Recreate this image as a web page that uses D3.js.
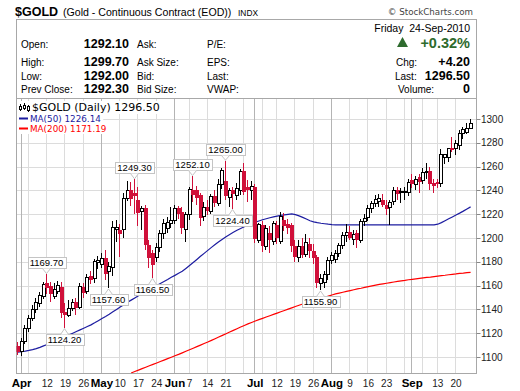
<!DOCTYPE html>
<html>
<head>
<meta charset="utf-8">
<script src="https://cdnjs.cloudflare.com/ajax/libs/d3/7.8.5/d3.min.js"></script>
<style>
  body { margin: 0; background: #fff; }
  svg { display: block; }
  text { white-space: pre; }
</style>
</head>
<body>
<div id="chart"></div>
<script>
// trading days shown on the chart
const dates = [
  "2010-03-31",
  "2010-04-01","2010-04-02","2010-04-05","2010-04-06","2010-04-07","2010-04-08","2010-04-09","2010-04-12","2010-04-13","2010-04-14","2010-04-15","2010-04-16","2010-04-19","2010-04-20","2010-04-21","2010-04-22","2010-04-23","2010-04-26","2010-04-27","2010-04-28","2010-04-29","2010-04-30",
  "2010-05-03","2010-05-04","2010-05-05","2010-05-06","2010-05-07","2010-05-10","2010-05-11","2010-05-12","2010-05-13","2010-05-14","2010-05-17","2010-05-18","2010-05-19","2010-05-20","2010-05-21","2010-05-24","2010-05-25","2010-05-26","2010-05-27","2010-05-28",
  "2010-06-01","2010-06-02","2010-06-03","2010-06-04","2010-06-07","2010-06-08","2010-06-09","2010-06-10","2010-06-11","2010-06-14","2010-06-15","2010-06-16","2010-06-17","2010-06-18","2010-06-21","2010-06-22","2010-06-23","2010-06-24","2010-06-25","2010-06-28","2010-06-29","2010-06-30",
  "2010-07-01","2010-07-02","2010-07-06","2010-07-07","2010-07-08","2010-07-09","2010-07-12","2010-07-13","2010-07-14","2010-07-15","2010-07-16","2010-07-19","2010-07-20","2010-07-21","2010-07-22","2010-07-23","2010-07-26","2010-07-27","2010-07-28","2010-07-29","2010-07-30",
  "2010-08-02","2010-08-03","2010-08-04","2010-08-05","2010-08-06","2010-08-09","2010-08-10","2010-08-11","2010-08-12","2010-08-13","2010-08-16","2010-08-17","2010-08-18","2010-08-19","2010-08-20","2010-08-23","2010-08-24","2010-08-25","2010-08-26","2010-08-27","2010-08-30","2010-08-31",
  "2010-09-01","2010-09-02","2010-09-03","2010-09-07","2010-09-08","2010-09-09","2010-09-10","2010-09-13","2010-09-14","2010-09-15","2010-09-16","2010-09-17","2010-09-20","2010-09-21","2010-09-22","2010-09-23","2010-09-24"
];

// daily prices
const open = [
  1109,1105,1113,1124,1132,1140,1145,1151,1162,1160,
  1151,1155,1159,1138,1135,1141,1146,1142,1159,1155,
  1168,1166,1179,1178,1183,1172,1175,1207,1207,1207,
  1233,1240,1238,1232,1222,1225,1194,1187,1184,1192,
  1204,1208,1212,1215,1225,1222,1207,1220,1240,1240,
  1236,1218,1226,1222,1235,1229,1245,1248,1234,1240,
  1236,1240,1256,1243,1240,1243,1198,1211,1193,1204,
  1197,1211,1197,1215,1212,1211,1193,1184,1193,1186,
  1195,1189,1184,1162,1163,1169,1181,1182,1187,1194,
  1202,1205,1199,1204,1198,1214,1217,1225,1229,1231,
  1232,1228,1226,1231,1240,1238,1238,1238,1249,1245,
  1251,1248,1255,1256,1246,1247,1246,1268,1268,1276,
  1275,1278,1288,1289,1292.1
];
const high = [
  1113,1116,1127,1135,1144,1150,1155,1163,1169.7,1163,
  1162,1164,1163,1145,1148,1149,1150,1162,1162,1170,
  1172,1182,1185,1187,1190,1180,1214,1215,1212,1238,
  1248,1247,1249.3,1243,1227,1228,1198,1190,1196,1207,
  1216,1218,1226,1228,1227,1226,1222,1243,1252.1,1244,
  1238,1230,1232,1237,1240,1250,1259,1265,1242,1243,
  1246,1258,1263,1249,1248,1245,1213,1214,1211,1210,
  1214,1214,1222,1221,1216,1213,1198,1198,1200,1203,
  1200,1195,1186,1170,1172,1184,1188,1190,1196,1205,
  1212,1210,1207,1207,1216,1220,1228,1231,1236,1237,
  1237,1232,1232,1243,1243,1242,1243,1250,1254,1252,
  1254,1259,1263,1260,1250,1250,1275,1271,1276,1285,
  1282,1291,1293,1297,1299.7
];
const low = [
  1102,1101,1111,1121,1130,1137,1142,1149,1153,1146,
  1149,1153,1133,1124.2,1134,1139,1135,1140,1150,1153,
  1161,1162,1174,1175,1165,1157.6,1168,1197,1184,1200,
  1231,1227,1220,1210,1207,1190,1175,1166.5,1180,1188,
  1199,1204,1208,1212,1216,1203,1197,1215,1230,1228,
  1210,1214,1219,1220,1226,1227,1241,1232,1226,1224.4,
  1232,1236,1236,1230,1232,1196,1196,1188,1190,1187,
  1194,1195,1195,1206,1203,1188,1180,1180,1183,1184,
  1183,1178,1158,1155.9,1158,1165,1178,1179,1184,1191,
  1197,1198,1194,1192,1196,1210,1214,1221,1226,1226,
  1226,1219,1211,1228,1232,1229,1232,1235,1242,1240,
  1238,1245,1250,1240,1238,1242,1243,1262,1264,1272,
  1270,1274,1283,1287,1292.0
];
const close = [
  1104.5,1113,1124,1132,1140,1146,1152,1161,1158,1153,
  1157,1160,1137,1135,1141,1146,1141,1159,1154,1167,
  1165,1180,1181,1183,1170,1176,1209,1209,1203,1233,
  1240,1233,1235,1221,1225,1194,1183,1177,1192,1204,
  1212,1213,1215,1225,1220,1208,1220,1241,1236,1234,
  1217,1226,1223,1235,1229,1245,1257,1235,1240,1237,
  1242,1256,1239,1240,1243,1199,1211,1193,1208,1198,
  1212,1200,1218,1210,1208,1193,1184,1193,1186,1196,
  1189,1183,1162,1166,1169,1181,1185,1187,1194,1202,
  1205,1200,1203,1198,1214,1216,1225,1229,1232,1233,
  1228,1224,1230,1240,1237,1239,1239,1247,1245,1249,
  1247,1255,1256,1245,1244,1245,1270,1270,1275,1274,
  1279,1288,1291,1292.3,1296.5
];

// moving averages
const ma50 = [
  1104.0,1104.4,1104.9,1105.5,1106.2,1107.0,1108.1,1109.3,1110.5,1111.7,
  1113.0,1114.4,1115.8,1117.2,1118.6,1120.0,1121.4,1122.8,1124.2,1125.6,
  1127.0,1128.7,1130.5,1132.3,1134.1,1136.0,1138.0,1140.0,1142.0,1144.0,
  1146.0,1147.8,1149.6,1151.4,1153.2,1155.0,1156.7,1158.4,1160.1,1161.8,
  1163.5,1165.2,1167.0,1168.6,1170.3,1172.0,1174.4,1176.9,1179.4,1182.0,
  1184.6,1187.1,1189.6,1192.1,1194.5,1196.8,1199.0,1201.0,1203.0,1204.8,
  1206.5,1208.0,1209.5,1210.9,1212.1,1213.2,1214.3,1215.3,1216.2,1217.0,
  1217.7,1218.4,1219.0,1219.5,1219.9,1220.2,1219.6,1218.6,1217.3,1215.9,
  1214.5,1213.6,1212.9,1212.4,1212.0,1211.6,1211.3,1211.1,1211.0,1211.0,
  1211.0,1211.0,1211.0,1211.0,1211.0,1211.0,1211.0,1211.0,1211.0,1211.0,
  1211.0,1211.0,1211.0,1211.0,1211.0,1211.0,1211.0,1211.0,1211.0,1211.0,
  1211.0,1211.0,1211.0,1211.0,1211.0,1211.6,1212.9,1214.5,1216.1,1217.7,
  1219.3,1220.9,1222.6,1224.4,1226.14
];
const ma200 = [
  null,null,null,null,null,null,null,null,null,null,
  null,null,null,null,null,null,null,null,null,null,
  null,null,null,null,null,null,null,null,null,null,
  null,1086.6,1087.8,1089.0,1090.2,1091.4,1092.6,1093.8,1095.0,1096.2,
  1097.4,1098.6,1099.8,1101.0,1102.2,1103.5,1104.8,1106.1,1107.4,1108.7,
  1110.0,1111.3,1112.6,1114.0,1115.4,1116.8,1118.2,1119.6,1121.0,1122.4,
  1123.8,1125.2,1126.5,1127.8,1129.0,1130.2,1131.4,1132.5,1133.6,1134.7,
  1135.8,1136.9,1138.0,1139.1,1140.2,1141.3,1142.4,1143.5,1144.5,1145.5,
  1146.5,1147.5,1148.4,1149.3,1150.2,1151.1,1152.1,1153.0,1153.7,1154.4,
  1155.1,1155.8,1156.5,1157.2,1157.8,1158.5,1159.2,1159.8,1160.4,1161.0,
  1161.5,1162.0,1162.5,1163.0,1163.5,1164.0,1164.4,1164.9,1165.3,1165.7,
  1166.1,1166.5,1166.9,1167.2,1167.6,1168.0,1168.4,1168.7,1169.1,1169.5,
  1169.8,1170.2,1170.5,1170.9,1171.19
];

// axis ticks
const priceTicks = [1100, 1120, 1140, 1160, 1180, 1200, 1220, 1240, 1260, 1280, 1300];
const monthTicks = ["2010-04-01", "2010-05-03", "2010-06-01", "2010-07-01", "2010-08-02", "2010-09-01"];
const monthNames = ["Apr", "May", "Jun", "Jul", "Aug", "Sep"];
const weekTicks = ["2010-04-12","2010-04-19","2010-04-26","2010-05-10","2010-05-17","2010-05-24","2010-06-07","2010-06-14","2010-06-21","2010-07-12","2010-07-19","2010-07-26","2010-08-09","2010-08-16","2010-08-23","2010-09-13","2010-09-20"];

// labelled highs and lows
const noteDates = ["2010-04-12","2010-04-19","2010-05-05","2010-05-14","2010-05-21","2010-06-08","2010-06-21","2010-06-23","2010-07-28"];
const noteValues = [1169.70, 1124.20, 1157.60, 1249.30, 1166.50, 1252.10, 1265.00, 1224.40, 1155.90];
const noteSides = ["high","low","low","high","low","high","high","low","low"];

// quote box
const quoteLabels = ["Open:", "High:", "Low:", "Prev Close:"];
const quoteValues = ["1292.10", "1299.70", "1292.00", "1292.30"];
const quoteLabels2 = ["Ask:", "Ask Size:", "Bid:", "Bid Size:"];
const quoteLabels3 = ["P/E:", "EPS:", "Last:", "VWAP:"];
const quoteRightLabels = ["Chg:", "Last:", "Volume:"];
const quoteRightValues = ["+4.20", "1296.50", "0"];

const settings = {
  width: 520,
  height: 391,
  frame: { left: 16.5, right: 476.5, top: 19.5, bottom: 373.5 },
  plotTop: 98.5,
  xRange: [18, 470.6],
  yRange: [357, 119],
  upStroke: "#000",
  downColor: "#d0103a",
  ma50Color: "#1c1ca0",
  ma200Color: "#ff0000",
  gridColor: "#dcdcdc",
  monthGridColor: "#b4b4b4",
  frameColor: "#a8a8a8",
  green: "#2e6b2e",
};

const SANS = "'Liberation Sans', Arial, sans-serif";
const DEJAVU = "'DejaVu Sans', Verdana, sans-serif";

function drawChart() {
  const f = settings.frame;
  const svg = d3.select("#chart").append("svg")
    .attr("width", settings.width)
    .attr("height", settings.height);

  const x = d3.scalePoint().domain(dates).range(settings.xRange);
  const y = d3.scaleLinear().domain([1100, 1300]).range(settings.yRange);

  // ---- title line
  svg.append("text").attr("x", 15).attr("y", 16)
    .style("font-family", SANS).style("font-weight", "bold").style("font-size", "12.5px")
    .text("$GOLD");
  svg.append("text").attr("x", 63).attr("y", 16)
    .style("font-family", SANS).style("font-size", "10.6px")
    .text("(Gold - Continuous Contract (EOD))");
  svg.append("text").attr("x", 238).attr("y", 16)
    .style("font-family", SANS).style("font-size", "8.4px")
    .text("INDX");
  svg.append("text").attr("x", 473).attr("y", 15).attr("text-anchor", "end")
    .style("font-family", DEJAVU).style("font-size", "8.7px").style("fill", "#444")
    .text("\u00a9 StockCharts.com");

  // ---- plot grid
  const grid = svg.append("g");
  grid.selectAll("line.h").data(priceTicks).enter().append("line")
    .attr("x1", f.left).attr("x2", f.right)
    .attr("y1", (d) => Math.round(y(d)) + 0.5).attr("y2", (d) => Math.round(y(d)) + 0.5)
    .style("stroke", settings.gridColor);

  // first trading day of each week
  const weekStarts = dates.filter((d, i) => {
    if (i === 0) return false;
    const prev = new Date(dates[i - 1] + "T00:00:00Z");
    const cur = new Date(d + "T00:00:00Z");
    return cur.getUTCDay() <= prev.getUTCDay() || (cur - prev) / 864e5 >= 7;
  });
  grid.selectAll("line.w").data(weekStarts).enter().append("line")
    .attr("x1", (d) => Math.round(x(d)) - 0.5).attr("x2", (d) => Math.round(x(d)) - 0.5)
    .attr("y1", settings.plotTop).attr("y2", f.bottom)
    .style("stroke", settings.gridColor);
  grid.selectAll("line.m").data(monthTicks).enter().append("line")
    .attr("x1", (d) => Math.round(x(d)) - 0.5).attr("x2", (d) => Math.round(x(d)) - 0.5)
    .attr("y1", settings.plotTop).attr("y2", f.bottom)
    .style("stroke", settings.monthGridColor);

  // ---- frame
  svg.append("rect")
    .attr("x", f.left).attr("y", f.top)
    .attr("width", f.right - f.left).attr("height", f.bottom - f.top)
    .style("fill", "none").style("stroke", settings.frameColor);
  svg.append("line")
    .attr("x1", f.left).attr("x2", f.right)
    .attr("y1", settings.plotTop).attr("y2", settings.plotTop)
    .style("stroke", settings.frameColor);

  // ---- quote box
  const q = svg.append("g").style("font-family", SANS);
  const rowY = [48, 65.5, 79.5, 93];
  q.selectAll("text.l1").data(quoteLabels).enter().append("text")
    .attr("x", 21).attr("y", (d, i) => rowY[i]).style("font-size", "10px").text((d) => d);
  q.selectAll("text.v1").data(quoteValues).enter().append("text")
    .attr("x", 129).attr("y", (d, i) => rowY[i]).attr("text-anchor", "end")
    .style("font-size", "12.5px").style("font-weight", "bold").text((d) => d);
  q.selectAll("text.l2").data(quoteLabels2).enter().append("text")
    .attr("x", 137).attr("y", (d, i) => rowY[i]).style("font-size", "10px").text((d) => d);
  q.selectAll("text.l3").data(quoteLabels3).enter().append("text")
    .attr("x", 207).attr("y", (d, i) => rowY[i]).style("font-size", "10px").text((d) => d);

  q.append("text").attr("x", 470).attr("y", 31.5).attr("text-anchor", "end")
    .style("font-size", "10.5px").text("Friday  24-Sep-2010");
  q.append("path").attr("d", "M397,47L402.5,37L408,47Z").style("fill", settings.green);
  q.append("text").attr("x", 470).attr("y", 47.5).attr("text-anchor", "end")
    .style("font-size", "14.5px").style("font-weight", "bold").style("fill", settings.green)
    .text("+0.32%");
  const rLabelX = [396, 395, 398];
  q.selectAll("text.rl").data(quoteRightLabels).enter().append("text")
    .attr("x", (d, i) => rLabelX[i]).attr("y", (d, i) => rowY[i + 1])
    .style("font-size", "10px").text((d) => d);
  q.selectAll("text.rv").data(quoteRightValues).enter().append("text")
    .attr("x", 470).attr("y", (d, i) => rowY[i + 1]).attr("text-anchor", "end")
    .style("font-size", "12.5px").style("font-weight", "bold").text((d) => d);

  // ---- right price axis
  const axis = svg.append("g").style("font-family", SANS);
  axis.selectAll("line").data(priceTicks).enter().append("line")
    .attr("x1", f.right).attr("x2", f.right + 4)
    .attr("y1", (d) => Math.round(y(d)) + 0.5).attr("y2", (d) => Math.round(y(d)) + 0.5)
    .style("stroke", "#888");
  axis.selectAll("text").data(priceTicks).enter().append("text")
    .attr("x", 481).attr("y", (d) => y(d) + 3.6)
    .style("font-size", "10px").style("fill", "#222").text((d) => d);

  // ---- bottom date labels
  const xl = svg.append("g").style("font-family", SANS);
  xl.selectAll("text.mo").data(monthTicks).enter().append("text")
    .attr("x", (d) => x(d)).attr("y", 386.5).attr("text-anchor", "middle")
    .style("font-size", "11.5px").style("font-weight", "bold")
    .text((d, i) => monthNames[i]);
  xl.selectAll("text.wk").data(weekTicks).enter().append("text")
    .attr("x", (d) => x(d)).attr("y", 386.5).attr("text-anchor", "middle")
    .style("font-size", "10px").style("fill", "#222")
    .text((d) => +d.slice(8));

  // ---- plot contents, clipped
  svg.append("clipPath").attr("id", "plotclip").append("rect")
    .attr("x", f.left).attr("y", settings.plotTop)
    .attr("width", f.right - f.left).attr("height", f.bottom - settings.plotTop);
  const plot = svg.append("g").attr("clip-path", "url(#plotclip)");

  const bars = dates.map((d, i) => ({ date: d, o: open[i], h: high[i], l: low[i], c: close[i] }));

  const maLine = d3.line().defined((d) => d != null)
    .x((d, i) => x(dates[i])).y((d) => y(d));
  plot.append("path").datum(ma200).attr("d", maLine)
    .style("fill", "none").style("stroke", settings.ma200Color).style("stroke-width", 1.2);
  plot.append("path").datum(ma50).attr("d", maLine)
    .style("fill", "none").style("stroke", settings.ma50Color).style("stroke-width", 1.2);

  // candles: 4px wide bodies, wick on the inner-left pixel
  const candles = plot.selectAll("g.c").data(bars).enter().append("g")
    .attr("shape-rendering", "crispEdges");
  candles.append("line")
    .attr("x1", (d) => Math.round(x(d.date)) - 0.5).attr("x2", (d) => Math.round(x(d.date)) - 0.5)
    .attr("y1", (d) => y(d.h)).attr("y2", (d) => y(d.l))
    .style("stroke", (d) => (d.c >= d.o ? settings.upStroke : settings.downColor));
  candles.append("rect")
    .attr("x", (d) => (d.c >= d.o ? Math.round(x(d.date)) - 1.5 : Math.round(x(d.date)) - 2))
    .attr("width", (d) => (d.c >= d.o ? 3 : 4))
    .attr("y", (d) => y(Math.max(d.o, d.c)))
    .attr("height", (d) => Math.max(1, y(Math.min(d.o, d.c)) - y(Math.max(d.o, d.c))))
    .style("fill", (d) => (d.c >= d.o ? "#fff" : settings.downColor))
    .style("stroke", (d) => (d.c >= d.o ? settings.upStroke : "none"));

  // ---- high / low notes
  const notes = noteDates.map((d, i) => ({ date: d, value: noteValues[i], side: noteSides[i] }));
  const ng = plot.selectAll("g.n").data(notes).enter().append("g");
  ng.each(function (d) {
    const g = d3.select(this);
    const cx = Math.round(x(d.date)) - 0.5;
    const tip = d.side === "high" ? y(d.value) - 0.5 : y(d.value) + 0.5;
    const boxH = 11;
    const gap = 5.5;
    const boxY = d.side === "high" ? Math.round(tip - gap - boxH) + 0.5 : Math.round(tip + gap) + 0.5;
    const t = g.append("text")
      .attr("x", cx).attr("y", boxY + 8.8).attr("text-anchor", "middle")
      .style("font-family", SANS).style("font-size", "9.5px")
      .text(d.value.toFixed(2));
    const w = Math.ceil(t.node().getComputedTextLength()) + 4;
    g.insert("rect", "text")
      .attr("x", Math.round(cx - w / 2) + 0.5).attr("y", boxY)
      .attr("width", w).attr("height", boxH)
      .style("fill", "#fff").style("stroke", "#c4c4c4");
    const base = d.side === "high" ? boxY + boxH : boxY;
    g.insert("path", "text")
      .attr("d", `M${cx - 4},${base}L${cx},${tip}L${cx + 4},${base}`)
      .style("fill", "#fff").style("stroke", "#c4c4c4");
  });

  // ---- legend
  const lg = svg.append("g");
  const legendRows = [
    { text: "$GOLD (Daily) 1296.50", color: "#000", size: 11, x: 32, y: 111 },
    { text: "MA(50) 1226.14", color: settings.ma50Color, size: 8.8, x: 30, y: 122 },
    { text: "MA(200) 1171.19", color: settings.ma200Color, size: 8.8, x: 30, y: 132 },
  ];
  legendRows.forEach((r, i) => {
    const bg = lg.append("rect").style("fill", "#fff");
    const t = lg.append("text").attr("x", r.x).attr("y", r.y)
      .style("font-family", DEJAVU).style("font-size", r.size + "px").style("fill", r.color)
      .text(r.text);
    const bb = t.node().getBBox();
    bg.attr("x", 17).attr("y", bb.y).attr("width", bb.x + bb.width + 2 - 17).attr("height", bb.height);
    if (i > 0) {
      lg.append("rect").attr("x", 19).attr("y", r.y - 4.5).attr("width", 9).attr("height", 2)
        .style("fill", r.color);
    }
  });
  // small candle icon
  const icon = lg.append("g").attr("shape-rendering", "crispEdges");
  [[20, 104, 111, 106, 109], [24, 103, 110, 105, 108], [28, 105, 112, 106, 110]].forEach((c) => {
    icon.append("line").attr("x1", c[0] + 0.5).attr("x2", c[0] + 0.5).attr("y1", c[1]).attr("y2", c[2])
      .style("stroke", "#000");
    icon.append("rect").attr("x", c[0] - 0.5).attr("y", c[3]).attr("width", 2).attr("height", c[4] - c[3])
      .style("fill", "#fff").style("stroke", "#000");
  });
}

drawChart();
</script>
</body>
</html>
